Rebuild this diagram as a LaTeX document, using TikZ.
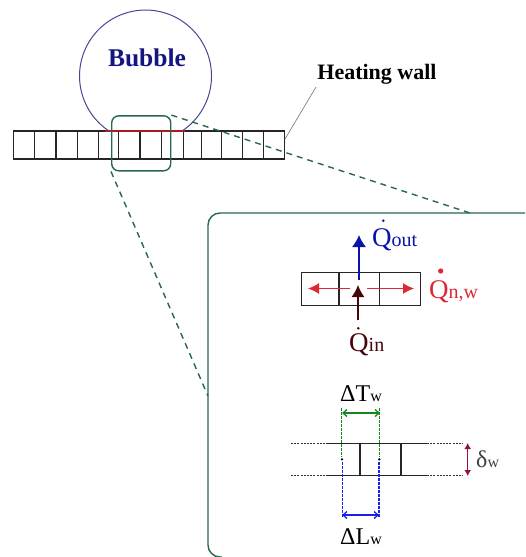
\documentclass[tikz,border=0pt]{standalone}
\usepackage{fontspec}
\setmainfont{Liberation Serif}
\usetikzlibrary{arrows.meta}
\definecolor{bubbleblue}{RGB}{70,70,150}
\definecolor{bubbletext}{RGB}{20,20,130}
\definecolor{zoomgreen}{RGB}{40,105,75}
\definecolor{heatred}{RGB}{220,40,50}
\definecolor{contactred}{RGB}{170,25,40}
\definecolor{qinbrown}{RGB}{70,5,10}
\definecolor{qoutblue}{RGB}{10,20,170}
\definecolor{tgreen}{RGB}{20,135,30}
\definecolor{lblue}{RGB}{30,30,235}
\definecolor{deltared}{RGB}{150,20,50}
\newcommand{\qlabel}[1]{{\fontsize{27}{27}\selectfont Q}{\fontsize{20}{20}\selectfont #1}}
\newcommand{\wlabel}[1]{{\fontsize{24}{24}\selectfont #1}{\fontsize{16}{16}\selectfont w}}
\begin{document}
\begin{tikzpicture}[x=1pt,y=-1pt,
            cellrow/.style={draw=black!85,line width=1.3pt,inner sep=0pt},
            zoomline/.style={draw=zoomgreen,line width=1.4pt},
            zoomdash/.style={zoomgreen,line width=1.4pt,dash pattern=on 6pt off 5pt},
            dotline/.style={black!80,line width=1.1pt,dash pattern=on 2pt off 1.2pt},
            guide/.style={line width=1.2pt,dash pattern=on 2.5pt off 1.5pt}]
            \useasboundingbox (0,0) rectangle (525,557);

            % bubble on the wall
            \draw[bubbleblue,line width=1pt] (109,131) arc[start angle=123.6,end angle=416.4,radius=66];
            \node[text=bubbletext,font=\bfseries\fontsize{25.5}{25.5}\selectfont] (bubble) at (147,58) {Bubble};

            % wall
            \node[cellrow,minimum width=271,minimum height=28] (wall) at (149,145) {};
            \foreach \x in {34.3,56,77.3,98.7,118.7,140,161.7,183.3,201.7,221.7,242.3,263.3}
                \draw[black!85,line width=1.2pt] (\x,131) -- (\x,159);
            \coordinate (contactleft) at (105,131);
            \coordinate (contactright) at (185,131);
            \draw[contactred,line width=1.5pt] (contactleft) -- (contactright);

            \node[font=\bfseries\fontsize{22}{22}\selectfont] (heating) at (377,74) {Heating wall};
            \coordinate (heatfoot) at (285,139);
            \coordinate (heattop) at (316,87);
            \draw[black!50,line width=.7pt] (heatfoot) -- (heattop);

            % zoom window
            \node[zoomline,rounded corners=7,minimum width=59,minimum height=55,inner sep=0pt] (window) at (141.2,143.3) {};
            \coordinate (panelleft) at (208,396);
            \coordinate (paneltop) at (470,213);
            \draw[zoomdash] (window.north east) -- (paneltop);
            \draw[zoomdash] (window.south west) -- (panelleft);
            \draw[zoomline,rounded corners=12] (525,213) -- (208,213) -- (208,557) -- (222,557);

            % heat balance of one cell
            \node[cellrow,minimum width=37.7,minimum height=32.6] (cella) at (320,289) {};
            \node[cellrow,minimum width=40.6,minimum height=32.6] (cellb) at (359,289) {};
            \node[cellrow,minimum width=41.4,minimum height=32.6] (cellc) at (400,289) {};
            \coordinate (outfoot) at (359,280);
            \coordinate (outtip) at (359,235);
            \coordinate (leftfoot) at (350,288.5);
            \coordinate (lefttip) at (308,288.5);
            \coordinate (rightfoot) at (367,288.5);
            \coordinate (righttip) at (414,288.5);
            \coordinate (infoot) at (358,320);
            \coordinate (intip) at (358,285);
            \draw[-{Latex[length=12pt,width=14pt]},qoutblue,line width=1.4pt] (outfoot) -- (outtip);
            \draw[-{Latex[length=11pt,width=11pt]},heatred,line width=1.4pt] (leftfoot) -- (lefttip);
            \draw[-{Latex[length=11pt,width=11pt]},heatred,line width=1.4pt] (rightfoot) -- (righttip);
            \draw[-{Latex[length=12pt,width=13pt]},qinbrown,line width=1.3pt] (infoot) -- (intip);
            \node[text=qoutblue,inner sep=0pt,anchor=base west] (qout) at (372,246) {\qlabel{out}};
            \node[text=heatred,inner sep=0pt,anchor=base west] (qnw) at (429,298) {\qlabel{n,w}};
            \node[text=qinbrown,inner sep=0pt,anchor=base west] (qin) at (349,351) {\qlabel{in}};
            \fill[qoutblue] (383.3,220.7) circle (1.4);
            \fill[heatred] (440.7,271) circle (2.6);
            \fill[qinbrown] (358.3,328.3) circle (1.4);

            % cell sizes
            \draw[black!85,line width=1.2pt] (326,443.3) -- (427,443.3);
            \draw[black!85,line width=1.2pt] (326,475.3) -- (427,475.3);
            \draw[dotline] (291,443.3) -- (326,443.3);
            \draw[dotline] (291,475.3) -- (326,475.3);
            \draw[dotline] (427,443.3) -- (463,443.3);
            \draw[dotline] (427,475.3) -- (463,475.3);
            \draw[black!85,line width=1.2pt] (360,443.3) -- (360,475.3);
            \draw[black!85,line width=1.2pt] (401,443.3) -- (401,475.3);
            \draw[guide,tgreen] (341.7,408) -- (341.7,457);
            \draw[guide,tgreen] (379.3,408) -- (379.3,457);
            \draw[guide,lblue] (342.5,462) -- (342.5,517);
            \draw[guide,lblue] (379,462) -- (379,517);
            \fill (342,459.3) circle (1.3);
            \fill (379.3,459.3) circle (1.3);
            \coordinate (tleft) at (342,413);
            \coordinate (tright) at (380,413);
            \coordinate (lleft) at (342,515);
            \coordinate (lright) at (379,515);
            \coordinate (dtop) at (467.7,443);
            \coordinate (dbottom) at (467.7,476);
            \draw[{Straight Barb[length=4pt,width=7pt]}-{Straight Barb[length=4pt,width=7pt]},tgreen,line width=1.3pt] (tleft) -- (tright);
            \draw[{Straight Barb[length=4pt,width=7pt]}-{Straight Barb[length=4pt,width=7pt]},lblue,line width=1.3pt] (lleft) -- (lright);
            \draw[{Latex[length=6pt,width=7pt]}-{Latex[length=6pt,width=7pt]},deltared,line width=1.3pt] (dtop) -- (dbottom);
            \node[inner sep=0pt,anchor=base west] (deltat) at (340,401) {\wlabel{ΔT}};
            \node[inner sep=0pt,anchor=base west] (deltal) at (340,544) {\wlabel{ΔL}};
            \node[inner sep=0pt,anchor=base west,text=black!75] (deltaw) at (476,467) {\wlabel{δ}};
\end{tikzpicture}
\end{document}
